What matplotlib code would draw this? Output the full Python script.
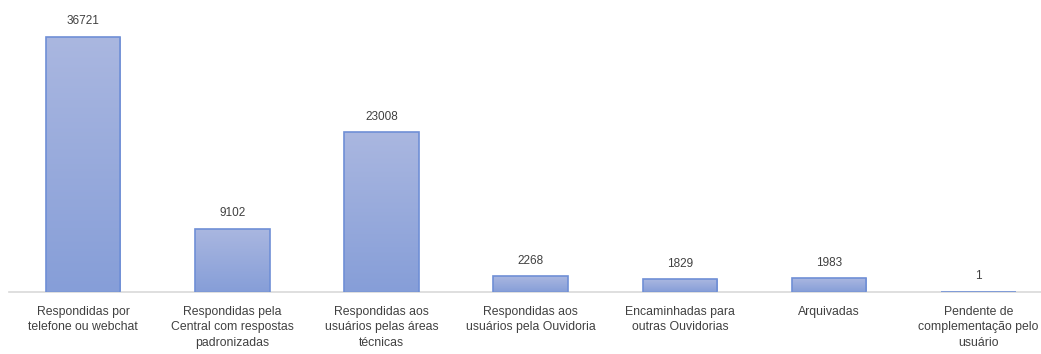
import numpy as np
import matplotlib
matplotlib.use("Agg")
import matplotlib.pyplot as plt
from matplotlib.colors import LinearSegmentedColormap

categories = [
    "Respondidas por\ntelefone ou webchat",
    "Respondidas pela\nCentral com respostas\npadronizadas",
    "Respondidas aos\nusuários pelas áreas\ntécnicas",
    "Respondidas aos\nusuários pela Ouvidoria",
    "Encaminhadas para\noutras Ouvidorias",
    "Arquivadas",
    "Pendente de\ncomplementação pelo\nusuário",
]
values = [36721, 9102, 23008, 2268, 1829, 1983, 1]

plt.rcParams['font.family'] = ['Liberation Sans', 'DejaVu Sans']

fig = plt.figure(figsize=(10.41, 3.54), dpi=100)
# axes extends past the right edge, like the cropped original
ax = fig.add_axes([8.5 / 1041, 62 / 354, 1044.5 / 1041, 292 / 354])

x = np.arange(len(categories))
bars = ax.bar(x, values, width=0.5, color="none", edgecolor="#6f8fd6", linewidth=1.2, zorder=3)

# vertical gradient inside each bar
cmap = LinearSegmentedColormap.from_list("g", ["#869ed8", "#aab7e0"])
grad = np.linspace(0, 1, 256).reshape(-1, 1)
for b in bars:
    x0, w, h = b.get_x(), b.get_width(), b.get_height()
    im = ax.imshow(grad, cmap=cmap, aspect="auto", origin="lower",
                   extent=[x0, x0 + w, 0, h], zorder=2)
    im.set_clip_path(b)
    ax.annotate(str(b.get_height()), (x0 + w / 2, h), xytext=(0, 7),
                textcoords="offset points", ha="center", va="bottom",
                fontsize=8.5, color="#404040")

ax.set_xlim(-0.5, len(categories) - 0.5)
ax.set_ylim(0, 42049)
ax.set_xticks(x)
ax.set_xticklabels(categories, fontsize=8.8, color="#404040", linespacing=1.4)
ax.tick_params(axis="x", length=0, pad=10)
ax.set_yticks([])
for s in ["top", "right", "left"]:
    ax.spines[s].set_visible(False)
ax.spines["bottom"].set_color("#d9d9d9")
ax.spines["bottom"].set_linewidth(1.2)

fig.savefig("out.png", dpi=100)
